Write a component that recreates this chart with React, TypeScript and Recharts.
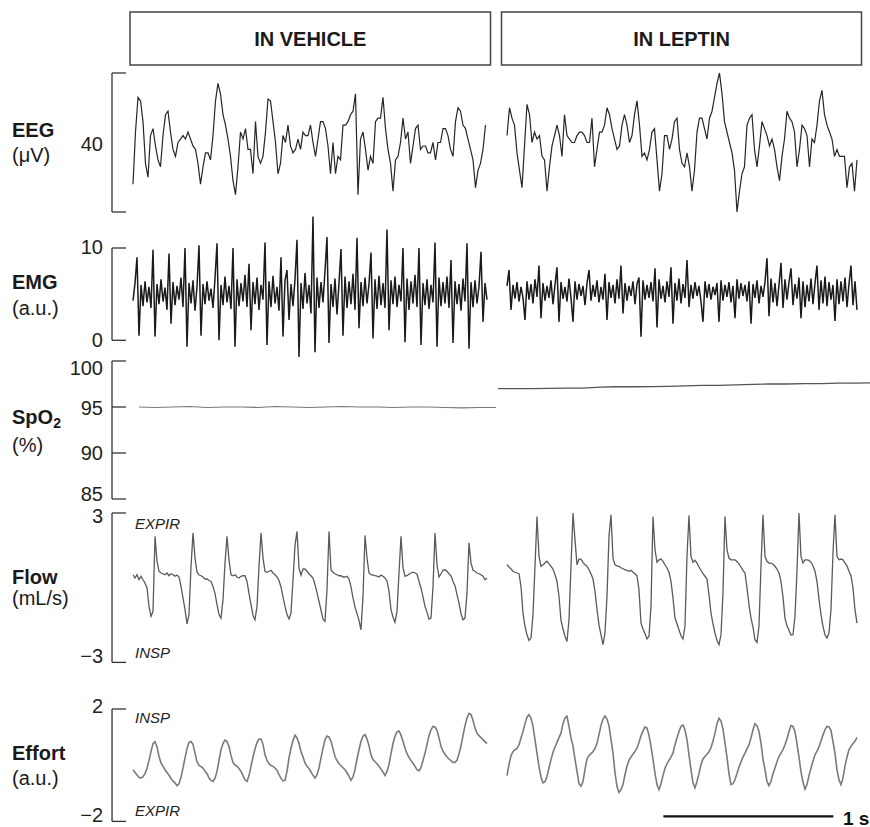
import React from "react";
import { LineChart, Line, XAxis, YAxis, ReferenceLine } from "recharts";

const FONT = '"Liberation Sans", Arial, Helvetica, sans-serif';
const W = 870;
const AXIS = "#333";

// visible time window in seconds (first sample of each trace sits at t = 0 and t = 2.2)
const T_MIN = -0.1235;
const T_MAX = 4.3353;
const T_VEH = 0;
const T_LEP = 2.2;

// sample rates (Hz)
const EEG_FS = 68;
const FS = 85;
const SPO2_FS = 10;

// EEG, µV
const eegVehicle = [
  -12, 3, 13, 12, 6, -6, -10, 2, 4, -1, -5, -7, 2, 8, 9, 3, -2, -4, 0, 1,
  2, 1, 3, 1, -1, -2, -6, -12, -7, -3, -3, -5, 2, 12, 17, 14, 8, 5, 1, -4,
  -11, -15, -7, 3, 1, 4, -2, -2, -9, 6, -4, -6, -4, 3, 12.5, 12, 6, 0, -9, -6,
  2, 0, 5, -1, -3, -2, 1,
  -2, 3, 2, 2, 5, 0, -4, 1, 6, 6, 4, -1, -9, 0, -9, -4, -5, 5, 5, 6,
  8, 9, 14, -15, 1, 3, -2, -8, -4, -6, 6, 7, 7, 13, 4, -2, -6, -14, -5, -4,
  0, 7, 1, 3, -6, -1, 4, 5, -2, -1, -1, -3, -3, 0, -5, 0, 0, 4, 4, 2,
  -2, -4, 6, 10, 9, 5, 4, 1, -2, -5, -13, -8, -6, -2, 5,
];
const eegLeptin = [
  2, 10, 7, 5, -3, -8, -13, -1, 11, 8, 0, 3, 1, 2, -4, -5, -14, -7, -1, 2,
  5, 2, -4, 8, 2, 1, 0, 0, 2, 3,
  3, 2, 0, 0, 7, -7, -2, 3, 3, 5, 10, 8, 4, 1, -2, -1, 5, 8, 5, 0,
  2, 8, 12, 5, -4, -3, -5, -2, 3, 4, -5, -14, -9, 2, 2, -2, 1, 6, 7, -2,
  -6, -7, -3, -7, -14, -8, 3, 7, 7, 4, 1, 7, 9, 13, 17, 20, 14, 6, 3, 0,
  -3, -8, -20, -14, -9, -7, 5, 7, 8, -2, -7, -1, 6, 4, 2, -1, 1, -2, -7, -11,
  -4, 1, 9, 7, 6, 3, -7, -2, 5, 4, 2, -7, 1, 0, 5, 12, 15, 8, 5, 3,
  1, -4, -2, -4, -4, -4, -13, -7, -6, -14, -5,
];

// EMG, a.u.
const emgVehicle = [
  4.3, 6.2, 9.0, 0.5, 6.0, 3.7, 6.4, 4.1, 5.8, 3.5,
  9.8, 0.4, 6.1, 3.9, 6.6, 4.2, 5.7, 3.3, 9.4, 1.8,
  6.3, 3.8, 5.9, 4.4, 6.8, 3.6, 10.0, -0.7, 6.2, 4.0,
  6.5, 3.2, 5.8, 10.3, 0.5, 6.1, 3.9, 6.4, 4.3, 5.6,
  3.5, 6.7, 10.5, 0.0, 6.0, 3.8, 6.9, 4.1, 5.9, 3.4,
  10.0, -0.7, 6.6, 3.7, 6.2, 4.2, 7.1, 3.6, 8.3, 1.1,
  6.3, 3.9, 6.8, 3.3, 6.0, 4.4, 10.6, -0.5, 6.4, 3.6,
  7.0, 4.0, 5.8, 3.2, 9.0, 0.4, 6.5, 7.6, 2.2, 6.1,
  3.7, 6.6, 10.9, -1.8, 6.2, 3.4, 7.3, 4.0, 6.0, 2.9,
  13.4, -1.3, 6.8, 3.5, 6.3, 4.1, 7.5, 11.2, -0.3, 6.1,
  3.6, 6.7, 2.8, 6.2, 9.9, 0.5, 6.9, 3.5, 6.4, 3.9,
  7.2, 3.3, 11.1, 1.3, 6.3, 3.7, 6.8, 4.0, 6.1, 9.5,
  0.2, 6.6, 3.4, 7.0, 3.8, 6.2, 3.5, 12.0, 1.1, 6.5,
  3.9, 6.9, 3.6, 6.0, 4.2, 10.0, -0.2, 6.7, 3.3, 6.4,
  4.0, 7.1, 3.6, 10.0, -0.5, 6.2, 3.8, 6.6, 3.4, 6.0,
  4.1, 10.6, -0.7, 6.8, 3.7, 6.3, 4.0, 6.9, 3.5, 8.7,
  -0.3, 6.4, 3.9, 6.1, 3.2, 6.7, 4.2, 10.5, -0.9, 6.3,
  3.6, 6.5, 4.0, 5.8, 9.6, 2.0, 6.2, 4.4,
];
const emgLeptin = [
  5.9, 7.6, 3.3, 6.0, 4.5, 6.3, 4.2, 5.8, 4.6, 2.2,
  6.4, 4.4, 6.1, 4.0, 6.6, 4.7, 8.1, 2.4, 6.2, 4.3,
  5.9, 4.6, 6.5, 3.9, 6.0, 7.9, 2.0, 6.3, 4.5, 5.8,
  4.2, 6.7, 4.6, 2.0, 6.4, 4.4, 6.1, 4.8, 5.9, 3.8,
  6.2, 7.6, 4.3, 6.0, 4.7, 6.5, 4.1, 5.8, 4.4, 7.2,
  2.2, 6.3, 4.6, 6.0, 4.0, 6.6, 4.5, 8.1, 2.9, 6.2,
  4.3, 5.9, 4.8, 6.4, 3.9, 6.1, 6.8, 0.4, 6.5, 4.4,
  6.0, 4.6, 6.3, 4.2, 7.8, 1.4, 6.6, 4.5, 5.9, 4.1,
  6.4, 4.7, 7.9, 1.8, 6.2, 4.3, 6.7, 4.0, 6.1, 4.6,
  8.7, 3.6, 6.0, 4.5, 6.3, 4.8, 5.9, 4.2, 2.0, 6.4,
  4.6, 6.1, 4.4, 5.8, 4.9, 6.2, 2.0, 6.5, 4.3, 6.0,
  4.7, 6.3, 4.1, 5.9, 2.4, 6.6, 4.5, 6.2, 4.8, 6.0,
  4.2, 6.4, 1.8, 6.1, 4.6, 6.5, 4.0, 5.9, 4.7, 6.3,
  8.9, 2.6, 6.7, 4.1, 6.2, 3.7, 6.0, 8.4, 3.5, 6.6,
  4.4, 6.3, 7.8, 3.8, 6.1, 4.5, 6.8, 2.4, 6.4, 3.6,
  6.0, 4.2, 6.7, 3.9, 6.2, 8.1, 3.3, 6.5, 4.0, 6.9,
  3.7, 6.3, 4.4, 6.0, 2.1, 6.6, 3.9, 6.4, 4.2, 6.8,
  3.6, 6.1, 8.1, 3.8, 6.4, 3.3,
];

// SpO2, %
const spo2Vehicle = [
  95.0, 94.95, 95.0, 95.05, 94.95, 95.0, 95.0, 94.95, 95.05, 95.0, 94.95,
  95.0, 95.05, 95.0, 95.0, 94.95, 95.0, 95.0, 94.95, 94.9, 94.95, 94.95,
];
const spo2Leptin = [
  97.0, 97.0, 97.0, 97.02, 97.05, 97.05, 97.15, 97.2, 97.2, 97.22, 97.25, 97.3,
  97.35, 97.35, 97.4, 97.45, 97.5, 97.5, 97.55, 97.55, 97.6, 97.6, 97.62,
];

// Flow, mL/s
const flowVehicle = [
  0.52, 0.39, 0.52, 0.32, 0.46, 0.32, 0.19, -0.01, -0.75, -1.15,
  -0.95, 2.06, 1.06, 0.66, 0.59, 0.56, 0.52, 0.59, 0.48, 0.56,
  0.52, 0.46, 0.51, 0.43, 0.05, -0.41, -0.88, -1.45, -1.08, 0.86,
  2.2, 1.19, 0.62, 0.52, 0.48, 0.43, 0.35, 0.35, 0.29, 0.25,
  0.05, -0.24, -0.68, -1.08, -1.22, -0.48, 0.99, 2.06, 1.12, 0.52,
  0.48, 0.52, 0.43, 0.39, 0.46, 0.48, 0.48, 0.25, -0.24, -0.68,
  -1.12, -1.29, -0.75, 0.86, 2.2, 1.19, 0.66, 0.62, 0.66, 0.7,
  0.59, 0.52, 0.43, 0.29, 0.03, -0.37, -0.75, -1.08, -1.26, -1.02,
  0.32, 1.7, 2.26, 0.79, 0.5, 0.75, 0.75, 0.66, 0.56, 0.48,
  0.39, 0.12, -0.21, -0.55, -0.91, -1.26, -1.35, -0.08, 2.26, 0.72,
  0.62, 0.56, 0.52, 0.48, 0.48, 0.43, 0.43, 0.46, 0.35, 0.03,
  -0.41, -0.78, -1.04, -1.31, -1.69, -0.35, 2.1, 1.19, 0.59, 0.52,
  0.51, 0.48, 0.46, 0.43, 0.51, 0.46, 0.39, 0.27, -0.15, -0.88,
  -1.18, -1.39, -0.95, 0.59, 2.06, 0.79, 0.46, 0.48, 0.54, 0.59,
  0.62, 0.59, 0.54, 0.25, -0.01, -0.37, -0.75, -0.99, -1.26, -1.22,
  0.05, 2.2, 0.92, 0.43, 0.56, 0.7, 0.72, 0.66, 0.56, 0.48,
  0.25, 0.08, -0.28, -0.62, -1.04, -1.29, -1.22, -0.21, 1.8, 1.0,
  0.7, 0.66, 0.59, 0.56, 0.52, 0.46, 0.32, 0.39,
];
const flowLeptin = [
  0.92, 0.83, 0.75, 0.66, 0.62, 0.59, 0.56, 0.05, -1.02, -1.55,
  -1.89, -2.12, -2.02, -1.08, 0.86, 2.86, 1.26, 0.86, 0.92, 0.99,
  1.06, 0.96, 0.86, 0.75, 0.52, 0.25, -0.35, -1.31, -1.66, -1.95,
  -2.16, -1.29, 0.86, 3.0, 1.93, 0.92, 1.15, 1.15, 1.02, 0.92,
  0.86, 0.72, 0.56, 0.35, -0.15, -0.88, -1.49, -1.89, -2.29, -1.82,
  -0.35, 2.06, 2.93, 1.19, 0.92, 0.88, 0.86, 0.8, 0.76, 0.72,
  0.7, 0.66, 0.7, 0.62, 0.56, 0.48, -0.08, -1.42, -1.66, -1.85,
  -2.06, -1.95, -0.75, 2.85, 1.53, 1.02, 1.12, 1.15, 1.06, 0.92,
  0.79, 0.62, 0.25, -0.41, -1.22, -1.45, -1.69, -1.93, -2.06, -1.55,
  1.26, 2.9, 1.26, 1.02, 1.1, 0.99, 0.83, 0.7, 0.56, 0.46,
  0.35, -0.28, -1.02, -1.45, -1.82, -2.12, -2.29, -1.89, -0.21, 2.86,
  1.53, 1.19, 1.12, 1.12, 1.12, 1.04, 0.96, 0.83, 0.7, 0.59,
  -0.01, -0.68, -1.22, -1.58, -2.09, -2.2, -1.55, 0.86, 2.93, 1.26,
  1.06, 0.99, 0.99, 0.94, 0.86, 0.75, 0.59, 0.25, -0.37, -1.22,
  -1.53, -1.71, -1.9, -1.89, -1.15, 0.66, 3.0, 1.26, 0.99, 1.12,
  1.12, 1.1, 1.02, 0.88, 0.66, 0.25, -0.46, -1.08, -1.55, -1.89,
  -2.02, -1.82, -0.88, 1.39, 2.93, 1.26, 1.12, 1.15, 1.12, 0.99,
  0.88, 0.66, 0.48, -0.01, -0.88, -1.42,
];

// Effort, a.u.
const effortVehicle = [
  -0.16, -0.26, -0.35, -0.43, -0.46, -0.41, -0.3, -0.11, 0.17, 0.49,
  0.77, 0.84, 0.65, 0.31, 0.08, -0.04, -0.16, -0.26, -0.36, -0.48,
  -0.56, -0.63, -0.73, -0.66, -0.42, -0.1, 0.26, 0.59, 0.81, 0.84,
  0.74, 0.43, 0.12, -0.01, -0.05, -0.1, -0.22, -0.3, -0.46, -0.54,
  -0.58, -0.46, -0.22, 0.17, 0.55, 0.77, 0.9, 0.84, 0.67, 0.34,
  0.1, 0.01, -0.04, -0.12, -0.22, -0.37, -0.52, -0.58, -0.37, -0.04,
  0.29, 0.58, 0.81, 0.93, 0.93, 0.74, 0.37, 0.17, 0.05, -0.01,
  -0.04, -0.1, -0.18, -0.34, -0.47, -0.56, -0.54, -0.22, 0.26, 0.61,
  0.88, 1.07, 0.97, 0.77, 0.49, 0.29, 0.08, -0.04, -0.12, -0.24,
  -0.36, -0.46, -0.34, -0.1, 0.26, 0.61, 0.91, 1.04, 1.0, 0.85,
  0.58, 0.31, 0.16, 0.05, -0.02, -0.09, -0.16, -0.27, -0.4, -0.54,
  -0.42, -0.16, 0.22, 0.55, 0.85, 1.03, 1.09, 0.93, 0.69, 0.36,
  0.2, 0.12, 0.05, -0.04, -0.14, -0.24, -0.37, -0.22, 0.02, 0.41,
  0.77, 1.03, 1.19, 1.22, 1.07, 0.85, 0.6, 0.41, 0.28, 0.17,
  0.07, -0.04, -0.16, -0.2, -0.08, 0.17, 0.43, 0.73, 1.05, 1.26,
  1.38, 1.36, 1.24, 0.97, 0.67, 0.5, 0.39, 0.29, 0.22, 0.16,
  0.1, 0.1, 0.17, 0.41, 0.69, 1.05, 1.41, 1.68, 1.84, 1.8,
  1.6, 1.32, 1.14, 1.05, 0.98, 0.91, 0.84, 0.77,
];
const effortLeptin = [
  -0.37, 0.02, 0.34, 0.48, 0.55, 0.6, 0.72, 0.97, 1.2, 1.48,
  1.71, 1.8, 1.68, 1.38, 0.91, 0.43, -0.04, -0.42, -0.63, -0.59,
  -0.4, -0.1, 0.2, 0.46, 0.65, 0.81, 0.98, 1.14, 1.48, 1.68,
  1.74, 1.38, 0.97, 0.69, 0.22, -0.22, -0.66, -0.75, -0.58, -0.16,
  0.22, 0.34, 0.41, 0.48, 0.6, 0.77, 1.09, 1.41, 1.64, 1.75,
  1.64, 1.41, 0.93, 0.43, -0.26, -0.75, -0.97, -0.87, -0.69, -0.34,
  -0.04, 0.17, 0.29, 0.39, 0.49, 0.61, 0.81, 1.05, 1.22, 1.36,
  1.32, 1.07, 0.67, 0.22, -0.28, -0.69, -0.87, -0.66, -0.37, -0.11,
  0.05, 0.17, 0.29, 0.43, 0.73, 0.97, 1.2, 1.38, 1.43, 1.26,
  0.91, 0.37, -0.16, -0.63, -0.81, -0.58, -0.3, 0.02, 0.22, 0.31,
  0.39, 0.48, 0.62, 0.85, 1.14, 1.48, 1.67, 1.57, 1.29, 0.79,
  0.29, -0.3, -0.69, -0.66, -0.52, -0.3, -0.07, 0.11, 0.29, 0.43,
  0.58, 0.73, 0.97, 1.26, 1.48, 1.41, 1.2, 0.79, 0.22, -0.16,
  -0.58, -0.73, -0.58, -0.3, -0.1, 0.12, 0.31, 0.43, 0.55, 0.73,
  0.93, 1.2, 1.41, 1.38, 1.2, 0.77, 0.29, -0.22, -0.61, -0.85,
  -0.69, -0.37, -0.11, 0.14, 0.37, 0.5, 0.65, 0.86, 1.07, 1.26,
  1.38, 1.36, 1.24, 0.85, 0.43, -0.16, -0.52, -0.69, -0.46, -0.04,
  0.29, 0.55, 0.67, 0.77, 0.85, 0.99,
];

const SPO2_START_VEH = 0.035;
const SPO2_START_LEP = 2.147;

const series = (vals: number[], t0: number, fs: number) =>
  vals.map((v, i) => ({ t: t0 + i / fs, v }));

type TickSpec = { value: number; text?: string; mark?: boolean; dy?: number };

const makeTick = (specs: TickSpec[]) => (props: any) => {
  const { x, y, payload } = props;
  const s = specs.find((k) => k.value === payload.value);
  if (!s) return <g />;
  return (
    <g>
      {s.mark !== false && <line x1={x} x2={x + 14} y1={y} y2={y} stroke={AXIS} strokeWidth={1.3} />}
      {s.text && (
        <text
          x={x - 9}
          y={y + (s.dy ?? 0)}
          textAnchor="end"
          dominantBaseline="central"
          fontSize={20}
          fill="#222"
          fontFamily={FONT}
        >
          {s.text}
        </text>
      )}
    </g>
  );
};

function TraceRow({
  top,
  height,
  padTop,
  padBottom,
  domain,
  ticks,
  children,
}: {
  top: number;
  height: number;
  padTop: number;
  padBottom: number;
  domain: [number, number];
  ticks: TickSpec[];
  children: React.ReactNode;
}) {
  return (
    <div style={{ position: "absolute", left: 0, top, width: W, height }}>
      <LineChart width={W} height={height} margin={{ top: padTop, right: 0, bottom: padBottom, left: 0 }}>
        <XAxis type="number" dataKey="t" domain={[T_MIN, T_MAX]} allowDataOverflow hide />
        <YAxis
          type="number"
          domain={domain}
          allowDataOverflow
          ticks={ticks.map((k) => k.value)}
          interval={0}
          width={112}
          tickSize={0}
          tickMargin={0}
          tickLine={false}
          axisLine={{ stroke: AXIS, strokeWidth: 1.3 }}
          tick={makeTick(ticks)}
        />
        {children}
      </LineChart>
    </div>
  );
}

const trace = (data: { t: number; v: number }[], stroke: string, width: number, key: string) => (
  <Line
    key={key}
    data={data}
    dataKey="v"
    type="linear"
    dot={false}
    activeDot={false}
    stroke={stroke}
    strokeWidth={width}
    isAnimationActive={false}
  />
);

function Labels() {
  const bold = { fontFamily: FONT, fontWeight: 700, fontSize: 20, fill: "#1a1a1a" } as const;
  const reg = { fontFamily: FONT, fontSize: 20, fill: "#1a1a1a" } as const;
  const ital = { fontFamily: FONT, fontStyle: "italic", fontSize: 15, fill: "#222" } as const;
  const head = { fontFamily: FONT, fontWeight: 700, fontSize: 20, fill: "#1a1a1a" } as const;
  return (
    <svg width={W} height={827} style={{ position: "absolute", left: 0, top: 0 }}>
      <rect x={130} y={12} width={360.5} height={53} fill="none" stroke="#444" strokeWidth={1.5} />
      <rect x={501.5} y={12} width={360} height={53} fill="none" stroke="#444" strokeWidth={1.5} />
      <text x={310.3} y={39} textAnchor="middle" dominantBaseline="central" {...head}>
        IN VEHICLE
      </text>
      <text x={681.5} y={39} textAnchor="middle" dominantBaseline="central" {...head}>
        IN LEPTIN
      </text>

      <text x={12} y={130} dominantBaseline="central" {...bold}>EEG</text>
      <text x={12} y={155} dominantBaseline="central" {...reg}>(μV)</text>
      <text x={12} y={282} dominantBaseline="central" {...bold}>EMG</text>
      <text x={12} y={308} dominantBaseline="central" {...reg}>(a.u.)</text>
      <text x={12} y={417} dominantBaseline="central" {...bold}>
        SpO<tspan fontSize={14} dy={6}>2</tspan>
      </text>
      <text x={12} y={445} dominantBaseline="central" {...reg}>(%)</text>
      <text x={12} y={577} dominantBaseline="central" {...bold}>Flow</text>
      <text x={12} y={598} dominantBaseline="central" {...reg}>(mL/s)</text>
      <text x={12} y={753} dominantBaseline="central" {...bold}>Effort</text>
      <text x={12} y={778} dominantBaseline="central" {...reg}>(a.u.)</text>

      <text x={135} y={523} dominantBaseline="central" {...ital}>EXPIR</text>
      <text x={135} y={652} dominantBaseline="central" {...ital}>INSP</text>
      <text x={135} y={717} dominantBaseline="central" {...ital}>INSP</text>
      <text x={135} y={810} dominantBaseline="central" {...ital}>EXPIR</text>

      <text x={843} y={818} dominantBaseline="central" fontFamily={FONT} fontWeight={700} fontSize={19} fill="#111">
        1 s
      </text>
    </svg>
  );
}

export default function App() {
  return (
    <div style={{ position: "absolute", left: 0, top: 0, width: W, height: 827, background: "#fff", overflow: "hidden" }}>
      <style>{"body{margin:0;overflow:hidden} svg [clip-path]{clip-path:none !important}"}</style>
      <Labels />

      <TraceRow
        top={63.3}
        height={159}
        padTop={10}
        padBottom={10}
        domain={[-20, 20]}
        ticks={[
          { value: -20 },
          { value: 0, text: "40", mark: false, dy: 1.5 },
          { value: 20 },
        ]}
      >
        {trace(series(eegVehicle, T_VEH, EEG_FS), "#262626", 1.2, "eegV")}
        {trace(series(eegLeptin, T_LEP, EEG_FS), "#262626", 1.2, "eegL")}
      </TraceRow>

      <TraceRow
        top={213.7}
        height={146.3}
        padTop={34}
        padBottom={20}
        domain={[0, 10]}
        ticks={[
          { value: 0, text: "0" },
          { value: 10, text: "10", dy: -1 },
        ]}
      >
        {trace(series(emgVehicle, T_VEH, FS), "#1a1a1a", 1.5, "emgV")}
        {trace(series(emgLeptin, T_LEP, FS), "#1a1a1a", 1.5, "emgL")}
      </TraceRow>

      <TraceRow
        top={355}
        height={150}
        padTop={6}
        padBottom={6}
        domain={[85, 100]}
        ticks={[
          { value: 85, text: "85", dy: -5.5 },
          { value: 90, text: "90" },
          { value: 95, text: "95", dy: 1 },
          { value: 100, text: "100", dy: 6.5 },
        ]}
      >
        {trace(series(spo2Vehicle, SPO2_START_VEH, SPO2_FS), "#777", 1.1, "spV")}
        {trace(series(spo2Leptin, SPO2_START_LEP, SPO2_FS), "#555", 1.3, "spL")}
      </TraceRow>

      <TraceRow
        top={505.3}
        height={165.4}
        padTop={8}
        padBottom={8}
        domain={[-3, 3]}
        ticks={[
          { value: -3, text: "\u22123", dy: -6.5 },
          { value: 3, text: "3", dy: 3.4 },
        ]}
      >
        {trace(series(flowVehicle, T_VEH, FS), "#5a5a5a", 1.3, "flV")}
        {trace(series(flowLeptin, T_LEP, FS), "#5a5a5a", 1.3, "flL")}
      </TraceRow>

      <TraceRow
        top={693.3}
        height={133.7}
        padTop={16}
        padBottom={5.3}
        domain={[-2, 2]}
        ticks={[
          { value: -2, text: "\u22122", dy: -6 },
          { value: 2, text: "2", dy: -2.6 },
        ]}
      >
        {trace(series(effortVehicle, T_VEH, FS), "#7a7a7a", 1.6, "efV")}
        {trace(series(effortLeptin, T_LEP, FS), "#7a7a7a", 1.6, "efL")}
        <ReferenceLine
          segment={[
            { x: 3.12, y: -1.82 },
            { x: 4.12, y: -1.82 },
          ]}
          stroke="#111"
          strokeWidth={2.2}
        />
      </TraceRow>
    </div>
  );
}
